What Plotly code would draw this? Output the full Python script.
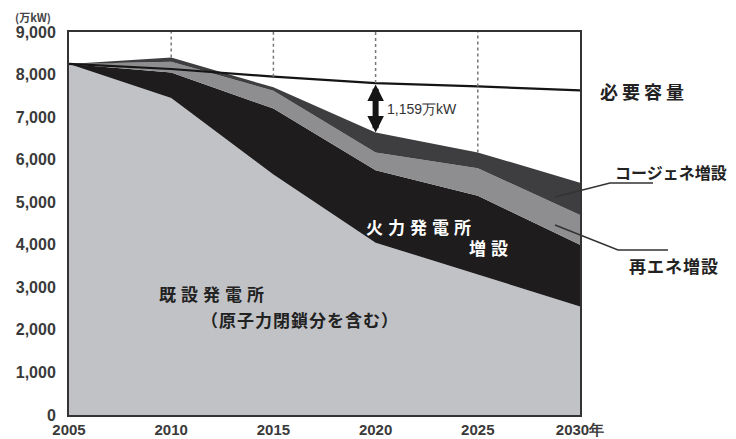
import plotly.graph_objects as go

years = [2005, 2010, 2015, 2020, 2025, 2030]
existing = [8250, 7450, 5650, 4050, 3300, 2550]      # 既設発電所
thermal_add = [0, 600, 1550, 1700, 1850, 1450]       # 火力発電所増設
renew_add = [0, 250, 420, 420, 650, 700]             # 再エネ増設
cogen_add = [0, 100, 80, 470, 370, 760]              # コージェネ増設
required = [8250, 8130, 7950, 7800, 7720, 7630]      # 必要容量
ytick_vals = [0, 1000, 2000, 3000, 4000, 5000, 6000, 7000, 8000, 9000]
xtick_text = ["2005", "2010", "2015", "2020", "2025", "2030年"]
gap_label = "1,159万kW"

totals = [a + b + c + d for a, b, c, d in zip(existing, thermal_add, renew_add, cogen_add)]

# page has an 8px body margin; plot box in screen pixels
OFF = 8
W, H = 736 - OFF, 439 - OFF
BOX_L, BOX_R, BOX_T, BOX_B = 69, 580, 32, 415
L, T = BOX_L - OFF, BOX_T - OFF
R, B = W + OFF - BOX_R, H + OFF - BOX_B
pw, ph = BOX_R - BOX_L, BOX_B - BOX_T


def P(px, py):
    return (px - BOX_L) / pw, 1 - (py - BOX_T) / ph


fig = go.Figure()
series = [
    ("既設発電所", existing, "#c1c2c6"),
    ("火力発電所増設", thermal_add, "#1e1c1d"),
    ("再エネ増設", renew_add, "#8e8e90"),
    ("コージェネ増設", cogen_add, "#3e3e40"),
]
for name, vals, col in series:
    fig.add_trace(go.Scatter(x=years, y=vals, name=name, stackgroup="s",
                             mode="lines", line=dict(width=0, color=col),
                             fillcolor=col, hoverinfo="skip"))
fig.add_trace(go.Scatter(x=years, y=required, name="必要容量", mode="lines",
                         line=dict(color="#151515", width=2.2)))

# dotted guide lines
guides = {2010: totals[1], 2015: required[2], 2020: required[3], 2025: totals[4]}
for xv, yv in guides.items():
    fig.add_shape(type="line", xref="x", yref="y", x0=xv, x1=xv, y0=yv, y1=9000,
                  line=dict(color="#777", width=1.5, dash="dot"), layer="above")

# double arrow
fig.add_annotation(x=years[3], y=totals[3], ax=years[3], ay=required[3],
                   xref="x", yref="y", axref="x", ayref="y", text="",
                   showarrow=True, arrowhead=2, arrowside="end+start",
                   arrowwidth=6, arrowsize=0.55, arrowcolor="#151515",
                   standoff=0, startstandoff=0)
fig.add_annotation(x=2020.45, y=7180, xref="x", yref="y", text=gap_label,
                   showarrow=False, xanchor="left",
                   font=dict(family="Liberation Sans", size=14, color="#333"))

jp = "Noto Sans CJK JP"
annots = [
    ("必要容量", 598, 91, "#222", 18, 4),
    ("コージェネ増設", 613, 172, "#222", 16, 0),
    ("再エネ増設", 627, 265, "#222", 17, 1),
    ("火力発電所", 364, 226, "#fff", 17, 5),
    ("増設", 467, 247, "#fff", 17, 5),
    ("既設発電所", 157, 293, "#222", 17, 5),
    ("（原子力閉鎖分を含む）", 199, 319, "#222", 17, 1),
]
for txt, px, py, col, fs, ls in annots:
    x, y = P(px, py)
    t = f'<span style="letter-spacing:{ls}px">{txt}</span>' if ls else txt
    fig.add_annotation(x=x, y=y, xref="paper", yref="paper",
                       text=t, showarrow=False, xanchor="left", yanchor="middle",
                       font=dict(family=jp, size=fs, color=col, weight="bold"))

# leader lines
for pts in [[(555, 197), (610, 183), (653, 183)], [(555, 225), (618, 250), (668, 250)]]:
    path = "M " + " L ".join(f"{P(a, b)[0]},{P(a, b)[1]}" for a, b in pts)
    fig.add_shape(type="path", xref="paper", yref="paper", path=path,
                  line=dict(color="#333", width=1.5))

ux, uy = P(13, 17)
fig.add_annotation(x=ux, y=uy, xref="paper", yref="paper", text="(万kW)",
                   showarrow=False, xanchor="left", yanchor="middle",
                   font=dict(family=jp, size=11, color="#444", weight="bold"))

tfy = dict(family="Liberation Sans", size=16, color="#3a3a3a", weight="bold")
tfx = dict(family="Liberation Sans", size=15, color="#3a3a3a", weight="bold")
fig.update_layout(
    width=W, height=H, margin=dict(l=L, r=R, t=T, b=B, autoexpand=False),
    plot_bgcolor="white", paper_bgcolor="white", showlegend=False,
    xaxis=dict(range=[2005, 2030], tickvals=years, ticktext=xtick_text,
               showgrid=False, zeroline=False, showline=True, mirror=True,
               linecolor="#333", linewidth=2, ticks="", automargin=False,
               ticklabelstandoff=0, tickfont=tfx),
    yaxis=dict(range=[0, 9000], tickvals=ytick_vals, tickformat=",d",
               showgrid=False, zeroline=False, showline=True, mirror=True,
               linecolor="#333", linewidth=2, ticks="", automargin=False,
               ticklabelstandoff=8, tickfont=tfy),
)
fig.write_html("out.html")
